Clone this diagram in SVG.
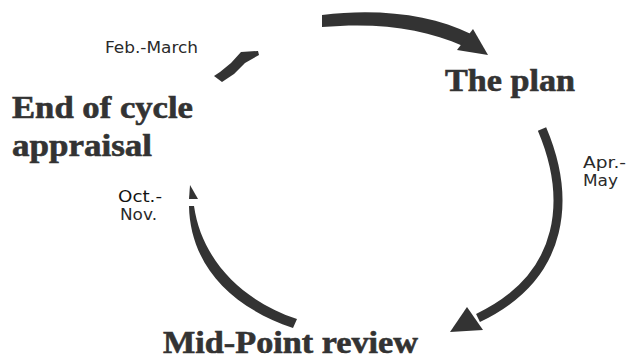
<svg xmlns="http://www.w3.org/2000/svg" width="627" height="361" viewBox="0 0 627 361">
<style>
.title{font-family:"Liberation Serif","Times New Roman",serif;font-weight:bold;font-size:31px;fill:#333333;stroke:#333333;stroke-width:0.6}
.lbl{font-family:"DejaVu Sans","Liberation Sans",sans-serif;font-size:16px;fill:#2a2a2a}
.arrow{fill:#333333;stroke:none}
.shaft{fill:none;stroke:#333333;stroke-width:9}
</style>
<rect width="627" height="361" fill="#ffffff"/>
<g id="connectors">
  <g id="arrow-top">
    <path class="arrow" d="M322,15 C380,8 432,15 471,34 L463,46 C425,29 380,22 322,27 Z"/>
    <polygon class="arrow" points="473,29 488,55 457,50"/>
  </g>
  <g id="arrow-right">
    <path class="shaft" d="M542,129 C570,195 568,275 478,318"/>
    <polygon class="arrow" points="467,307 483,330 450,332"/>
  </g>
  <g id="arrow-left">
    <path class="arrow" d="M189,206 C190,260 225,305 293,328 L297,319 C245,302 202,262 194,206 Z"/>
    <polygon class="arrow" points="190,185 198,199 189,199"/>
  </g>
  <g id="arrow-fragment">
    <polygon class="arrow" points="214,76 222,82 234,74 245,63 259,55 258,51 241,52 231,63 220,72"/>
  </g>
</g>
<g id="node-plan">
  <text class="title" x="445" y="91" textLength="130" lengthAdjust="spacingAndGlyphs">The plan</text>
</g>
<g id="node-midpoint">
  <text class="title" x="163" y="353" font-size="29" textLength="255" lengthAdjust="spacingAndGlyphs">Mid-Point review</text>
</g>
<g id="node-end">
  <text class="title" x="12" y="118" textLength="181" lengthAdjust="spacingAndGlyphs">End of cycle</text>
  <text class="title" x="12" y="156" textLength="140" lengthAdjust="spacingAndGlyphs">appraisal</text>
</g>
<g id="label-feb">
  <text class="lbl" x="105" y="53" textLength="93" lengthAdjust="spacingAndGlyphs">Feb.-March</text>
</g>
<g id="label-apr">
  <text class="lbl" x="583" y="168" textLength="43" lengthAdjust="spacingAndGlyphs">Apr.-</text>
  <text class="lbl" x="583" y="186" textLength="35" lengthAdjust="spacingAndGlyphs">May</text>
</g>
<g id="label-oct">
  <text class="lbl" x="118" y="202" textLength="44" lengthAdjust="spacingAndGlyphs" style="fill:#111111">Oct.-</text>
  <text class="lbl" x="120" y="220" textLength="37" lengthAdjust="spacingAndGlyphs">Nov.</text>
</g>
</svg>
